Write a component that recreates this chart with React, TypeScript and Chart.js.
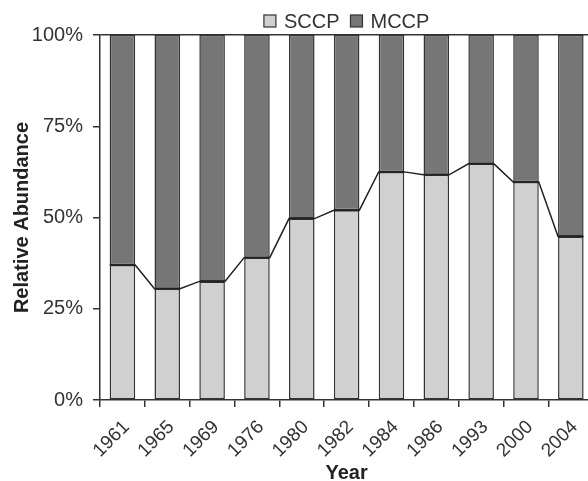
import React, { useEffect, useRef } from "react";
import { Chart, registerables } from "chart.js";

Chart.register(...registerables);

const years = ["1961", "1965", "1969", "1976", "1980", "1982", "1984", "1986", "1993", "2000", "2004"];
const sccp = [37, 30.5, 32.5, 39, 49.7, 52, 62.5, 61.7, 64.7, 59.7, 44.8];
const mccp = [63, 69.5, 67.5, 61, 50.3, 48, 37.5, 38.3, 35.3, 40.3, 55.2];
const yTicks = [0, 25, 50, 75, 100];

const FONT = "'Liberation Sans', Arial, sans-serif";
const INK = "#333333";

const seriesLines = {
  id: "seriesLines",
  afterDatasetsDraw(chart: any) {
    const meta = chart.getDatasetMeta(0);
    const els = meta.data;
    const ctx = chart.ctx;
    ctx.save();
    ctx.strokeStyle = "#222";
    ctx.lineWidth = 1.5;
    ctx.beginPath();
    els.forEach((el: any, i: number) => {
      const p = el.getProps(["x", "y", "width"], true);
      const l = p.x - p.width / 2;
      const r = p.x + p.width / 2;
      if (i === 0) ctx.moveTo(l, p.y);
      else ctx.lineTo(l, p.y);
      ctx.lineTo(r, p.y);
    });
    ctx.stroke();
    ctx.restore();
  },
};

// Legend drawn centred above the plot area
const topLegend = {
  id: "topLegend",
  afterDraw(chart: any) {
    const ctx = chart.ctx;
    const area = chart.chartArea;
    const box = 12;
    const gapText = 8;
    const gapItem = 11;
    const cy = 21;
    ctx.save();
    ctx.font = `20px ${FONT}`;
    const items = chart.data.datasets.map((d: any) => ({
      label: d.label,
      color: d.backgroundColor,
      w: ctx.measureText(d.label).width,
    }));
    let total = 0;
    items.forEach((it: any, i: number) => {
      total += box + gapText + it.w + (i < items.length - 1 ? gapItem : 0);
    });
    let x = (area.left + area.right) / 2 - total / 2;
    items.forEach((it: any) => {
      ctx.fillStyle = it.color;
      ctx.fillRect(x, cy - box / 2, box, box);
      ctx.strokeStyle = INK;
      ctx.lineWidth = 1.2;
      ctx.strokeRect(x, cy - box / 2, box, box);
      x += box + gapText;
      ctx.fillStyle = INK;
      ctx.textBaseline = "middle";
      ctx.textAlign = "left";
      ctx.fillText(it.label, x, cy + 1);
      x += it.w + gapItem;
    });
    ctx.restore();
  },
};

export default function App() {
  const ref = useRef<HTMLCanvasElement | null>(null);
  useEffect(() => {
    if (!ref.current) return;
    const chart = new Chart(ref.current, {
      type: "bar",
      data: {
        labels: years,
        datasets: [
          {
            label: "SCCP",
            data: sccp,
            backgroundColor: "#d0d0d0",
            borderColor: INK,
            borderWidth: 1.5,
            borderSkipped: false,
            barPercentage: 0.57,
            categoryPercentage: 1,
          },
          {
            label: "MCCP",
            data: mccp,
            backgroundColor: "#767676",
            borderColor: INK,
            borderWidth: 1.5,
            borderSkipped: false,
            barPercentage: 0.57,
            categoryPercentage: 1,
          },
        ],
      },
      options: {
        responsive: false,
        animation: false,
        devicePixelRatio: 1,
        layout: { padding: { left: 0, right: 1, top: 35, bottom: 0 } },
        plugins: {
          tooltip: { enabled: false },
          legend: { display: false },
        },
        scales: {
          x: {
            stacked: true,
            offset: true,
            afterFit: (s: any) => {
              s.height = 81;
            },
            border: { color: INK, width: 1.5 },
            grid: {
              offset: true,
              drawOnChartArea: false,
              color: INK,
              tickColor: INK,
              tickLength: 7,
              lineWidth: 1.5,
            },
            ticks: {
              minRotation: 45,
              maxRotation: 45,
              color: INK,
              padding: 9,
              labelOffset: 4,
              font: { family: FONT, size: 19 },
            },
            title: {
              display: true,
              text: "Year",
              color: "#222",
              padding: { top: 0, bottom: -2 },
              font: { family: FONT, size: 20, weight: "bold", lineHeight: 1 },
            },
          },
          y: {
            stacked: true,
            min: 0,
            max: 100,
            afterFit: (s: any) => {
              s.width = 100;
            },
            afterBuildTicks: (s: any) => {
              s.ticks = yTicks.map((v) => ({ value: v }));
            },
            border: { color: INK, width: 1.5 },
            grid: {
              color: (c: any) => (c.tick && c.tick.value === 100 ? INK : "rgba(0,0,0,0)"),
              tickColor: INK,
              tickLength: 7,
              lineWidth: 1.5,
            },
            ticks: {
              color: INK,
              padding: 10,
              font: { family: FONT, size: 20 },
              callback: (v: any) => v + "%",
            },
            title: {
              display: true,
              text: "Relative Abundance",
              color: "#222",
              padding: { top: 10, bottom: 0 },
              font: { family: FONT, size: 20, weight: "bold" },
            },
          },
        },
      },
      plugins: [seriesLines, topLegend],
    });
    return () => chart.destroy();
  }, []);

  return (
    <div style={{ position: "absolute", left: 0, top: 0, width: 588, height: 481, overflow: "hidden", background: "#fff" }}>
      <div style={{ width: 596, height: 481 }}>
        <canvas ref={ref} width={596} height={481} style={{ display: "block" }} />
      </div>
    </div>
  );
}
